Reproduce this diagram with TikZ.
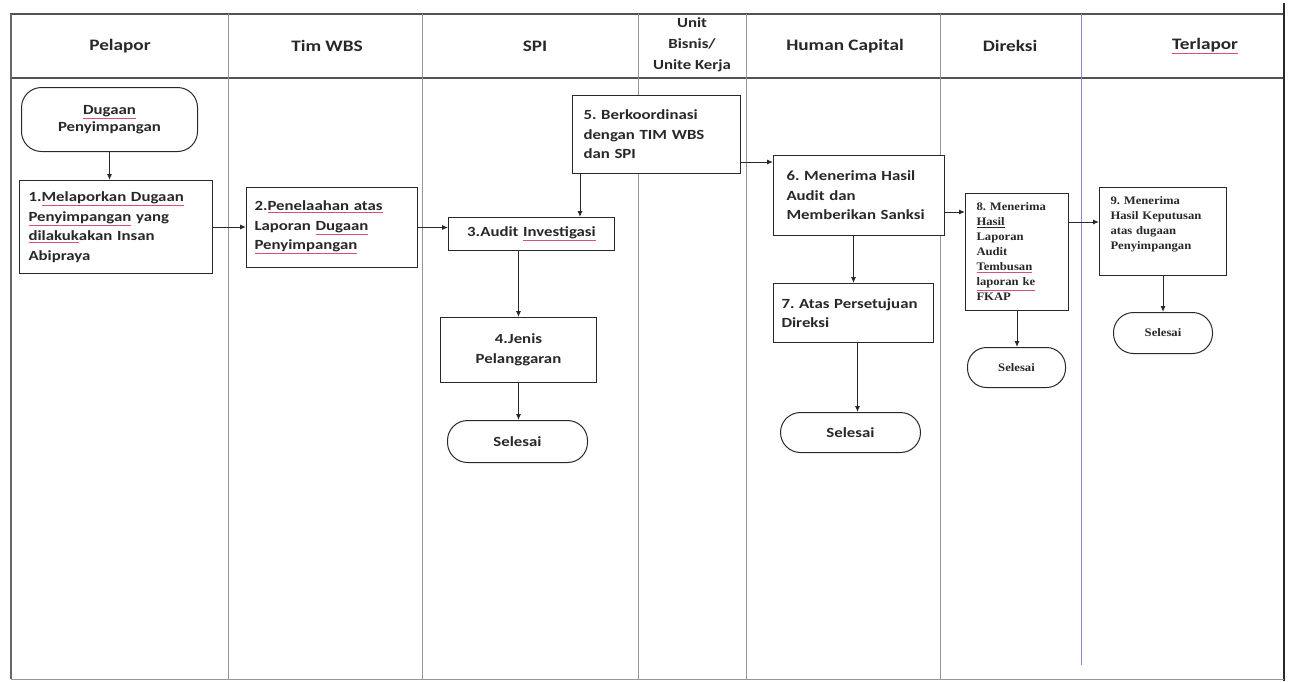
\documentclass[tikz,border=0pt]{standalone}
\usepackage{fontspec}
\setmainfont{Carlito}[FakeStretch=1.2]
\newfontfamily\serf{Liberation Serif}[FakeStretch=1.1]
\usetikzlibrary{arrows.meta,calc}
\definecolor{sqc}{RGB}{214,80,120}
\definecolor{ink}{RGB}{40,40,40}
\definecolor{grid}{RGB}{150,150,150}
\newcommand\sq[1]{\textcolor{sqc}{\underline{\textcolor{ink}{#1}}}}
\frenchspacing
\hyphenpenalty=10000
\begin{document}
\begin{tikzpicture}[x=1pt,y=-1pt,
  every node/.style={text=ink},
  proc/.style={draw=ink, fill=white, line width=1pt, anchor=north west, inner xsep=9pt, inner ysep=2pt, align=left,
     font=\bfseries\fontsize{14}{19.5}\selectfont},
  sproc/.style={proc, font=\serf\bfseries\fontsize{11.5}{15}\selectfont, inner xsep=11pt},
  term/.style={draw=ink, fill=white, line width=1pt, anchor=north west, rounded corners=20pt, align=center,
     font=\bfseries\fontsize{14}{17.5}\selectfont, inner sep=0pt},
  sterm/.style={term, font=\serf\bfseries\fontsize{11.5}{14}\selectfont},
  hdr/.style={font=\bfseries\fontsize{16}{21}\selectfont, align=center},
  arr/.style={draw=ink, line width=1pt, -{Latex[length=6pt,width=5pt]}},
  tline/.style={draw=grid, line width=0.9pt}
]
\useasboundingbox (0,0) rectangle (1295,681);
\fill[white] (0,0) rectangle (1295,681);

% table frame
\draw[draw=ink!80, line width=1.1pt] (10,14) -- (1283,14);
\draw[draw=ink!80, line width=1.1pt] (10,78) -- (1283,78);
\draw[draw=ink!70, line width=1.1pt] (11,14) -- (11,679);
\draw[draw=ink, line width=1.2pt] (1284,3) -- (1284,681);
\draw[tline] (11,679) -- (1284,679);
\draw[tline] (228,14) -- (228,679);
\draw[tline] (422,14) -- (422,679);
\draw[tline] (638,14) -- (638,679);
\draw[tline] (746,14) -- (746,679);
\draw[tline] (940,14) -- (940,679);
\draw[draw=grid!60!blue!70, line width=0.9pt] (1081,14) -- (1081,665);

% headers
\node[hdr] (h1) at (120,46) {Pelapor};
\node[hdr] (h2) at (327,46) {Tim WBS};
\node[hdr] (h3) at (535,46) {SPI};
\node[hdr, font=\bfseries\fontsize{14}{21}\selectfont] (h4) at (692,45) {Unit\\Bisnis/\\Unite Kerja};
\node[hdr] (h5) at (845,46) {Human Capital};
\node[hdr] (h6) at (1010,46) {Direksi};
\node[hdr] (h7) at (1205,46) {\sq{Terlapor}};

% Pelapor
\node[term, minimum width=176pt, minimum height=64pt] (st) at (21,87) {\sq{Dugaan}\\Penyimpangan};
\node[proc, minimum width=193pt, minimum height=93pt, text width=175pt] (b1) at (19,180)
  {1.\sq{Melaporkan Dugaan}\\\sq{Penyimpangan} yang\\\sq{dilakuk}akan Insan\\Abipraya};

% Tim WBS
\node[proc, minimum width=171pt, minimum height=80pt, text width=155pt, inner xsep=8pt] (b2) at (246,187)
  {2.\sq{Penelaahan atas}\\Laporan \sq{Dugaan}\\\sq{Penyimpangan}};

% SPI
\node[proc, minimum width=166pt, minimum height=33pt, text width=148pt, align=center] (b3) at (448,217)
  {3.Audit \sq{Investigasi}};
\node[proc, minimum width=156pt, minimum height=65pt, text width=138pt, align=center] (b4) at (440,317)
  {4.Jenis\\Pelanggaran};
\node[term, minimum width=140pt, minimum height=42pt] (s1) at (447,420) {Selesai};

% Unit Bisnis
\node[proc, minimum width=168pt, minimum height=78pt, text width=146pt, inner xsep=11pt] (b5) at (572,95)
  {5. Berkoordinasi\\dengan TIM WBS\\dan SPI};

% Human Capital
\node[proc, minimum width=171pt, minimum height=80pt, text width=145pt, inner xsep=13pt] (b6) at (773,155)
  {6. Menerima Hasil\\Audit dan\\Memberikan Sanksi};
\node[proc, minimum width=160pt, minimum height=59pt, text width=144pt, inner xsep=8pt] (b7) at (773,283)
  {\mbox{7. Atas Persetujuan}\\Direksi};
\node[term, minimum width=140pt, minimum height=40pt] (s2) at (780,412) {Selesai};

% Direksi
\node[sproc, minimum width=103pt, minimum height=117pt, text width=81pt] (b8) at (965,193)
  {8. Menerima\\\underline{Hasil}\\Laporan\\Audit\\\sq{Tembusan}\\\sq{laporan ke}\\FKAP};
\node[sterm, minimum width=98pt, minimum height=40pt, rounded corners=19pt] (s3) at (967,347) {Selesai};

% Terlapor
\node[sproc, minimum width=127pt, minimum height=88pt, text width=105pt, anchor=north west] (b9) at (1099,187)
  {\parbox[c][80pt][t]{105pt}{\vspace{5pt}9. Menerima\\Hasil Keputusan\\atas dugaan\\Penyimpangan}};
\node[sterm, minimum width=99pt, minimum height=41pt] (s4) at (1113,312) {Selesai};

% connectors
\draw[arr] (st.south) -- (st.south |- b1.north);
\draw[arr] (b1.east) -- (b1.east -| b2.west);
\draw[arr] (b2.east) -- (b2.east -| b3.west);
\draw[arr] ([xshift=8pt]b5.south west) -- ([xshift=8pt]b5.south west |- b3.north);
\draw[arr] ([yshift=-67pt]b5.north east) -- ([yshift=-67pt]b5.north east -| b6.west);
\draw[arr] (b4.north |- b3.south) -- (b4.north);
\draw[arr] (b4.south) -- (b4.south |- s1.north);
\draw[arr] (b7.north |- b6.south) -- (b7.north);
\draw[arr] ([xshift=4pt]b7.south) -- ([xshift=4pt]b7.south |- s2.north);
\draw[arr] ([yshift=-57pt]b6.north east) -- ([yshift=-57pt]b6.north east -| b8.west);
\draw[arr] ([yshift=-29pt]b8.north east) -- ([yshift=-29pt]b8.north east -| b9.west);
\draw[arr] (b8.south) -- (b8.south |- s3.north);
\draw[arr] (b9.south) -- (b9.south |- s4.north);
\end{tikzpicture}
\end{document}
